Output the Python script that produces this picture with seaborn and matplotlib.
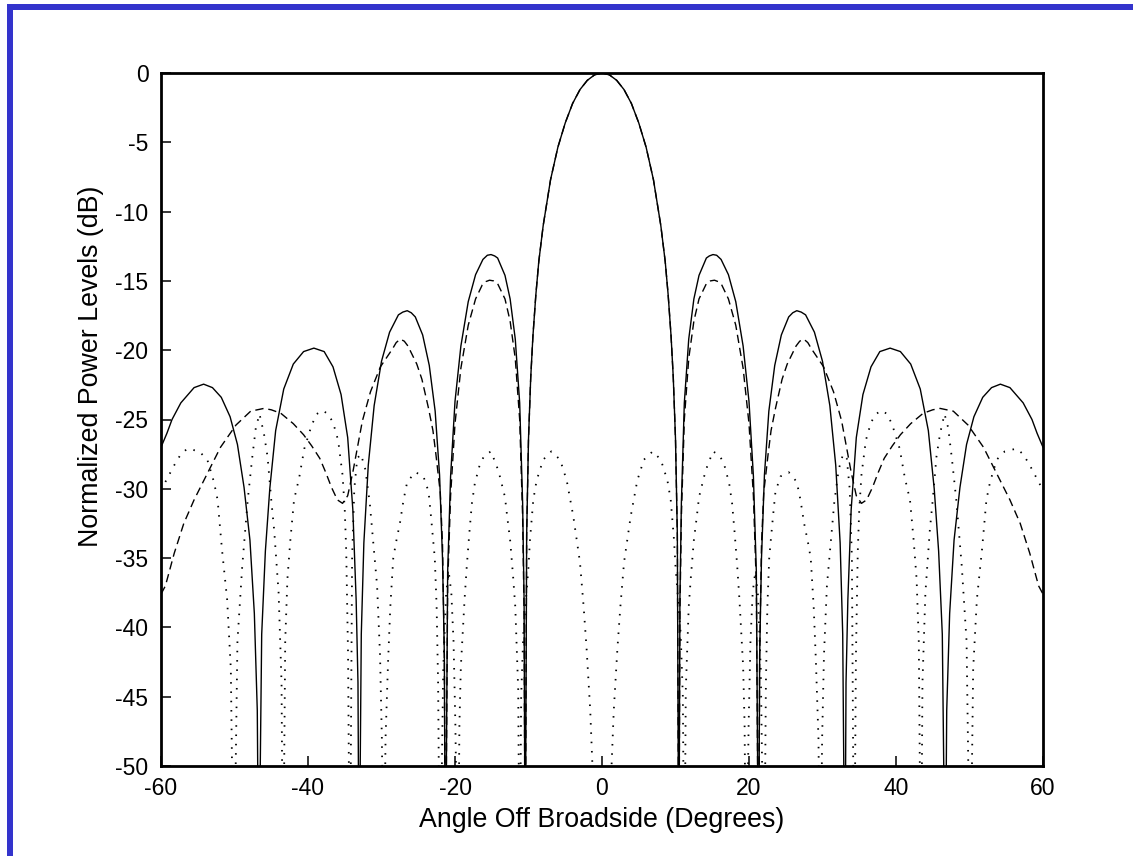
import matplotlib
matplotlib.use("Agg")
import matplotlib.pyplot as plt
from matplotlib.lines import Line2D
import seaborn as sns
import pandas as pd

# ---------------- data ----------------
x_ticks = [-60, -40, -20, 0, 20, 40, 60]
y_ticks = [0, -5, -10, -15, -20, -25, -30, -35, -40, -45, -50]
x_label = "Angle Off Broadside (Degrees)"
y_label = "Normalized Power Levels (dB)"

# solid pattern
solid_deg = [
    -60, -59.2, -58.5, -57.3, -55.5, -54.2, -53.0, -51.8, -50.6, -49.6, -48.7, -47.9, -47.3, -46.9,
    -46.7, -46.3, -45.8, -45.2, -44.4, -43.3, -42.0, -40.6, -39.2, -37.8, -36.6, -35.5, -34.6, -33.9, -33.45, -33.2,
    -33.05, -32.75, -32.4, -31.8, -31.0, -30.0, -28.9, -27.7, -27.1, -26.5, -25.95, -25.4, -24.4, -23.5, -22.7, -22.1, -21.7, -21.45,
    -21.3, -21.0, -20.6, -20.0, -19.2, -18.2, -17.2, -16.2, -15.6, -15.1, -14.6, -14.2, -13.2, -12.5, -11.8, -11.2, -10.8, -10.6,
    -10.45, -10.25, -10.0, -9.7, -9.4, -9.0, -8.6, -8, -7, -6, -5, -4, -3, -2, -1,
    0, 1, 2, 3, 4, 5, 6, 7, 8, 8.6, 9.0, 9.4, 9.7, 10.0, 10.25, 10.45,
    10.6, 10.8, 11.2, 11.8, 12.5, 13.2, 14.2, 14.6, 15.1, 15.6, 16.2, 17.2, 18.2, 19.2, 20.0, 20.6, 21.0, 21.3,
    21.45, 21.7, 22.1, 22.7, 23.5, 24.4, 25.4, 25.95, 26.5, 27.1, 27.7, 28.9, 30.0, 31.0, 31.8, 32.4, 32.75, 33.05,
    33.2, 33.45, 33.9, 34.6, 35.5, 36.6, 37.8, 39.2, 40.6, 42.0, 43.3, 44.4, 45.2, 45.8, 46.3, 46.7,
    46.9, 47.3, 47.9, 48.7, 49.6, 50.6, 51.8, 53.0, 54.2, 55.5, 57.3, 58.5, 59.2, 60]
solid_db = [
    -27.0, -26.0, -25.0, -23.8, -22.7, -22.45, -22.7, -23.4, -24.8, -26.8, -29.9, -33.7, -39, -46,
    -60, -40.5, -34.5, -30.0, -25.8, -22.8, -21.0, -20.1, -19.85, -20.1, -21.2, -23.2, -26.3, -31.5, -38, -44,
    -60, -40.5, -33.9, -28.3, -24.0, -20.8, -18.7, -17.45, -17.25, -17.15, -17.3, -17.6, -18.9, -21.1, -24.4, -29, -35, -42,
    -60, -36, -29.1, -23.7, -19.7, -16.5, -14.55, -13.45, -13.15, -13.1, -13.2, -13.35, -14.6, -16.3, -19.2, -23.8, -31, -38,
    -60, -33.3, -26.4, -22.0, -19.0, -16.0, -13.6, -11.0, -7.7, -5.35, -3.6, -2.2, -1.2, -0.53, -0.13,
    0, -0.13, -0.53, -1.2, -2.2, -3.6, -5.35, -7.7, -11.0, -13.6, -16.0, -19.0, -22.0, -26.4, -33.3, -60,
    -38, -31, -23.8, -19.2, -16.3, -14.6, -13.35, -13.2, -13.1, -13.15, -13.45, -14.55, -16.5, -19.7, -23.7, -29.1, -36, -60,
    -42, -35, -29, -24.4, -21.1, -18.9, -17.6, -17.3, -17.15, -17.25, -17.45, -18.7, -20.8, -24.0, -28.3, -33.9, -40.5, -60,
    -44, -38, -31.5, -26.3, -23.2, -21.2, -20.1, -19.85, -20.1, -21.0, -22.8, -25.8, -30.0, -34.5, -40.5, -60,
    -46, -39, -33.7, -29.9, -26.8, -24.8, -23.4, -22.7, -22.45, -22.7, -23.8, -25.0, -26.0, -27.0]

# dashed pattern
dashed_deg = [
    -60, -59.4, -58.2, -56.9, -55.5, -53.7, -51.9, -49.8, -47.8, -46.0, -45.0, -43.7, -42.0, -40.6, -39.5, -38.4, -37.6, -36.8, -36.0,
    -35.3, -34.6, -33.9, -33.3, -32.6, -31.5, -30.15, -28.5, -28.0,
    -27.45, -26.9, -26.4, -25.2, -24.5, -23.6, -23.0, -22.6, -22.0, -21.7, -21.45,
    -21.3, -21.0, -20.6, -20.0, -19.2, -18.2, -17.2, -16.3, -15.8, -15.3, -14.75, -14.2, -13.2, -12.5, -11.8, -11.2, -10.8, -10.6,
    -10.45, -10.25, -10.0, -9.7, -9.4, -9.0, -8.6, -8, -7, -6, -5, -4, -3, -2, -1,
    0, 1, 2, 3, 4, 5, 6, 7, 8, 8.6, 9.0, 9.4, 9.7, 10.0, 10.25, 10.45,
    10.6, 10.8, 11.2, 11.8, 12.5, 13.2, 14.2, 14.75, 15.3, 15.8, 16.3, 17.2, 18.2, 19.2, 20.0, 20.6, 21.0, 21.3,
    21.45, 21.7, 22.0, 22.6, 23.0, 23.6, 24.5, 25.2, 26.4, 26.9, 27.45,
    28.0, 28.5, 30.15, 31.5, 32.6, 33.3, 33.9, 34.6, 35.3,
    36.0, 36.8, 37.6, 38.4, 39.5, 40.6, 42.0, 43.7, 45.0, 46.0, 47.8, 49.8, 51.9, 53.7, 55.5, 56.9, 58.2, 59.4, 60]
dashed_db = [
    -37.6, -37.0, -34.65, -32.5, -30.8, -28.9, -27.0, -25.4, -24.4, -24.2, -24.3, -24.55, -25.3, -26.1, -26.9, -27.8, -28.8, -29.9, -30.8,
    -31.05, -30.5, -28.8, -27.1, -25.1, -23.0, -21.2, -19.9, -19.45,
    -19.2, -19.35, -19.7, -21.0, -22.1, -24.2, -25.8, -27.5, -30.3, -34, -42,
    -60, -37, -30.5, -25.3, -21.3, -18.2, -16.3, -15.3, -15.05, -14.95, -15.0, -15.2, -16.3, -17.9, -20.6, -25.0, -32, -39,
    -60, -33.3, -26.4, -22.0, -19.0, -16.0, -13.6, -11.0, -7.7, -5.35, -3.6, -2.2, -1.2, -0.53, -0.13,
    0, -0.13, -0.53, -1.2, -2.2, -3.6, -5.35, -7.7, -11.0, -13.6, -16.0, -19.0, -22.0, -26.4, -33.3, -60,
    -39, -32, -25.0, -20.6, -17.9, -16.3, -15.2, -15.0, -14.95, -15.05, -15.3, -16.3, -18.2, -21.3, -25.3, -30.5, -37, -60,
    -42, -34, -30.3, -27.5, -25.8, -24.2, -22.1, -21.0, -19.7, -19.35, -19.2,
    -19.45, -19.9, -21.2, -23.0, -25.1, -27.1, -28.8, -30.5, -31.05,
    -30.8, -29.9, -28.8, -27.8, -26.9, -26.1, -25.3, -24.55, -24.3, -24.2, -24.4, -25.4, -27.0, -28.9, -30.8, -32.5, -34.65, -37.0, -37.6]

# dotted pattern
dotted_deg = [
    -60, -58.9, -58.2, -57.3, -56.4, -54.8, -53.7, -52.8, -52.3, -51.7, -51.0, -50.5,
    -50.1, -49.6, -48.95, -48.2, -47.6, -47.1, -46.6, -46.0, -45.5, -45.0, -44.6, -44.35, -44.0, -43.6,
    -43.4, -43.1, -42.8, -42.4, -41.9, -41.2, -40.5, -39.5, -38.8, -38.0, -37.3, -36.6, -35.9, -35.3, -35.0, -34.8, -34.55,
    -34.3, -34.0, -33.7, -33.3, -32.8, -32.2, -31.6, -31.1, -30.6, -30.2, -29.95,
    -29.7, -29.45, -29.1, -28.8, -28.4, -28.0, -27.5, -27.0, -26.5, -25.4, -24.3, -23.6, -23.3, -23.0, -22.75, -22.5, -22.3,
    -22.05, -21.6, -21.2, -20.85, -20.5, -20.2, -19.95,
    -19.6, -19.4, -19.2, -18.95, -18.7, -18.4, -18.05, -17.7, -17.3, -16.6, -16.0, -15.1, -14.3, -13.9, -13.2, -12.9, -12.5, -12.1, -11.8, -11.6, -11.4,
    -11.2, -11.0, -10.7, -10.0, -9.8, -9.35, -8.9, -8.0, -6.9, -5.7, -4.8, -3.9, -3.0, -2.5, -2.1, -1.6, -1.3, -0.6,
    0, 0.6, 1.3, 1.6, 2.1, 2.5, 3.0, 3.9, 4.8, 5.7, 6.9, 8.0, 8.9, 9.35, 9.8, 10.0, 10.7, 11.0, 11.2,
    11.4, 11.6, 11.8, 12.1, 12.5, 12.9, 13.2, 13.9, 14.3, 15.1, 16.0, 16.6, 17.3, 17.7, 18.05, 18.4, 18.7, 18.95, 19.2, 19.4, 19.6,
    19.95, 20.2, 20.5, 20.85, 21.2, 21.6, 22.05,
    22.3, 22.5, 22.75, 23.0, 23.3, 23.6, 24.3, 25.4, 26.5, 27.0, 27.5, 28.0, 28.4, 28.8, 29.1, 29.45, 29.7,
    29.95, 30.2, 30.6, 31.1, 31.6, 32.2, 32.8, 33.3, 33.7, 34.0, 34.3,
    34.55, 34.8, 35.0, 35.3, 35.9, 36.6, 37.3, 38.0, 38.8, 39.5, 40.5, 41.2, 41.9, 42.4, 42.8, 43.1, 43.4,
    43.6, 44.0, 44.35, 44.6, 45.0, 45.5, 46.0, 46.6, 47.1, 47.6, 48.2, 48.95, 49.6, 50.1,
    50.5, 51.0, 51.7, 52.3, 52.8, 53.7, 54.8, 56.4, 57.3, 58.2, 58.9, 60]
dotted_db = [
    -30.1, -29.0, -28.3, -27.5, -27.1, -27.3, -27.9, -29.5, -30.8, -34.4, -38, -43,
    -60, -41, -35.6, -30.8, -27.8, -25.6, -24.6, -26.0, -27.7, -30.8, -33, -34.9, -37.5, -44,
    -60, -41, -36.5, -33.7, -30.8, -29.2, -27.1, -25.4, -24.6, -24.35, -24.6, -25.2, -26.5, -29.0, -31.5, -34.5, -42,
    -60, -35, -30, -27.8, -27.5, -28.6, -31.0, -34, -37, -42, -48,
    -60, -48, -42.4, -38.5, -35, -33.8, -32.5, -30.8, -29.5, -28.8, -29.1, -30.2, -31.8, -33.5, -35, -38.5, -44,
    -60, -43, -37.5, -36, -37.5, -41, -47,
    -60, -47, -42.8, -40.4, -38.0, -35.6, -33.2, -31.05, -29.6, -28.2, -27.6, -27.3, -28.4, -29.1, -30.6, -32.0, -33.7, -36.3, -38.5, -41.4, -44.5,
    -60, -45, -40.4, -35.6, -33.7, -30.8, -29.4, -27.9, -27.3, -27.9, -29.4, -32.0, -35.3, -38.5, -41.5, -46, -50, -56,
    -70, -56, -50, -46, -41.5, -38.5, -35.3, -32.0, -29.4, -27.9, -27.3, -27.9, -29.4, -30.8, -33.7, -35.6, -40.4, -45, -60,
    -44.5, -41.4, -38.5, -36.3, -33.7, -32.0, -30.6, -29.1, -28.4, -27.3, -27.6, -28.2, -29.6, -31.05, -33.2, -35.6, -38.0, -40.4, -42.8, -47, -60,
    -47, -41, -37.5, -36, -37.5, -43, -60,
    -44, -38.5, -35, -33.5, -31.8, -30.2, -29.1, -28.8, -29.5, -30.8, -32.5, -33.8, -35, -38.5, -42.4, -48, -60,
    -48, -42, -37, -34, -31.0, -28.6, -27.5, -27.8, -30, -35, -60,
    -42, -34.5, -31.5, -29.0, -26.5, -25.2, -24.6, -24.35, -24.6, -25.4, -27.1, -29.2, -30.8, -33.7, -36.5, -41, -60,
    -44, -37.5, -34.9, -33, -30.8, -27.7, -26.0, -24.6, -25.6, -27.8, -30.8, -35.6, -41, -60,
    -43, -38, -34.4, -30.8, -29.5, -27.9, -27.3, -27.1, -27.5, -28.3, -29.0, -30.1]

# ---------------- drawing ----------------
sns.set_theme(style="white")
plt.rcParams["font.family"] = ["Liberation Sans", "DejaVu Sans"]
plt.rcParams["axes.unicode_minus"] = False
plt.rcParams["lines.scale_dashes"] = False

fig = plt.figure(figsize=(11.33, 8.56), dpi=100)
fig.patch.set_facecolor("white")
W, H = 1133.0, 856.0
ax = fig.add_axes([161 / W, 1 - 766 / H, 882 / W, 693 / H])
ax.set_facecolor("white")

solid_df = pd.DataFrame({"deg": solid_deg, "db": solid_db})
dashed_df = pd.DataFrame({"deg": dashed_deg, "db": dashed_db})
dotted_df = pd.DataFrame({"deg": dotted_deg, "db": dotted_db})

sns.lineplot(data=dotted_df, x="deg", y="db", ax=ax, color="black",
             linewidth=1.3, linestyle=(0, (1.1, 5.6)), estimator=None, sort=False)
sns.lineplot(data=dashed_df, x="deg", y="db", ax=ax, color="black",
             linewidth=1.0, linestyle=(0, (6.0, 3.5)), estimator=None, sort=False)
sns.lineplot(data=solid_df, x="deg", y="db", ax=ax, color="black",
             linewidth=1.0, linestyle="-", estimator=None, sort=False)

ax.set_xlim(-60, 60)
ax.set_ylim(-50, 0)
ax.set_xticks(x_ticks)
ax.set_yticks(y_ticks)
ax.set_xticklabels([str(v) for v in x_ticks])
ax.set_yticklabels([str(v) for v in y_ticks])
ax.tick_params(axis="both", direction="in", length=7, width=1.1, color="black",
               labelsize=16.5, labelcolor="black", top=False, right=False,
               bottom=True, left=True)
ax.tick_params(axis="x", pad=8)
ax.tick_params(axis="y", pad=9)
for s in ax.spines.values():
    s.set_visible(True)
    s.set_color("black")
    s.set_linewidth(2.0)

ax.set_xlabel(x_label, fontsize=19.3, color="black", labelpad=5)
ax.set_ylabel(y_label, fontsize=19.3, color="black")
ax.yaxis.set_label_coords((104 - 161) / 882, (766 - 366) / 693)
ax.grid(False)

# blue frame of the original screenshot
blue = "#3333cc"
fig.add_artist(Line2D([9.5 / W, 9.5 / W], [0, 1 - 4 / H], transform=fig.transFigure,
                      color=blue, linewidth=6 * 0.72, solid_capstyle="butt"))
fig.add_artist(Line2D([7 / W, 1], [1 - 7 / H, 1 - 7 / H], transform=fig.transFigure,
                      color=blue, linewidth=6 * 0.72, solid_capstyle="butt"))

fig.savefig("out.png", dpi=100, facecolor="white")
